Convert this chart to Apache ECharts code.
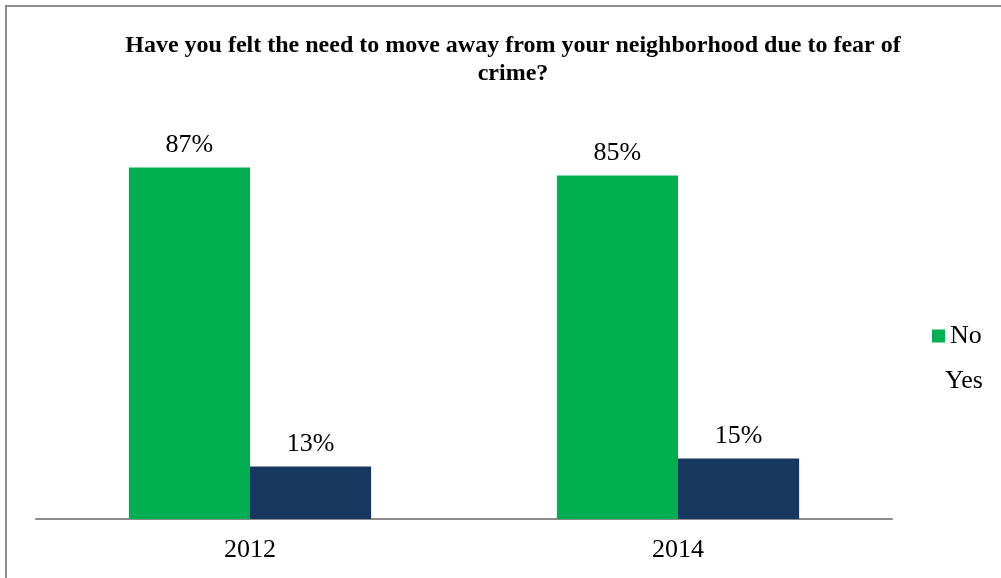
<!DOCTYPE html>
<html>
<head>
<meta charset="utf-8">
<script src="https://cdn.jsdelivr.net/npm/echarts@6/dist/echarts.min.js"></script>
<style>
  html, body { margin: 0; padding: 0; background: #fff; }
  #chart { width: 1001px; height: 578px; }
</style>
</head>
<body>
<div id="chart"></div>
<script>
// Survey responses by year (percent)
const years = ['2012', '2014'];
const noValues = [87, 85];
const yesValues = [13, 15];
const seriesNames = ['No', 'Yes'];

const serif = '"Liberation Serif", "Times New Roman", serif';
const chart = echarts.init(document.getElementById('chart'));

const labelStyle = {
  show: true,
  position: 'top',
  distance: 9,
  formatter: '{c}%',
  fontFamily: serif,
  fontSize: 26,
  color: '#000'
};

chart.setOption({
  animation: false,
  title: {
    text: 'Have you felt the need to move away from your neighborhood due to fear of\ncrime?',
    left: 508,
    textAlign: 'center',
    top: 27,
    textStyle: {
      fontFamily: serif,
      fontWeight: 'bold',
      fontSize: 24,
      lineHeight: 28,
      color: '#000'
    }
  },
  graphic: [{
    type: 'rect',
    shape: { x: 6, y: 6, width: 1100, height: 700 },
    style: { fill: null, stroke: '#8c8c8c', lineWidth: 2 },
    silent: true
  }],
  legend: [{
    data: [seriesNames[0]],
    left: 927,
    top: 318,
    itemWidth: 13,
    itemHeight: 13,
    itemGap: 5,
    icon: 'rect',
    textStyle: { fontFamily: serif, fontSize: 26, color: '#000' }
  }, {
    data: [seriesNames[1]],
    left: 935,
    top: 363,
    itemWidth: 0,
    itemHeight: 0,
    icon: 'rect',
    textStyle: { fontFamily: serif, fontSize: 26, color: '#000' }
  }],
  grid: { left: 36, right: 109, top: 115, bottom: 59 },
  xAxis: {
    type: 'category',
    data: years,
    axisTick: { show: false },
    axisLine: { lineStyle: { color: '#8c8c8c', width: 2 } },
    axisLabel: { fontFamily: serif, fontSize: 26, color: '#000', margin: 18 }
  },
  yAxis: {
    type: 'value',
    min: 0,
    max: 100,
    show: false
  },
  series: [{
    name: seriesNames[0],
    type: 'bar',
    data: noValues,
    barWidth: '28.3%',
    barGap: '0%',
    itemStyle: { color: '#00b050' },
    label: labelStyle
  }, {
    name: seriesNames[1],
    type: 'bar',
    data: yesValues,
    barWidth: '28.3%',
    itemStyle: { color: '#17375e' },
    label: labelStyle
  }]
});
</script>
</body>
</html>
